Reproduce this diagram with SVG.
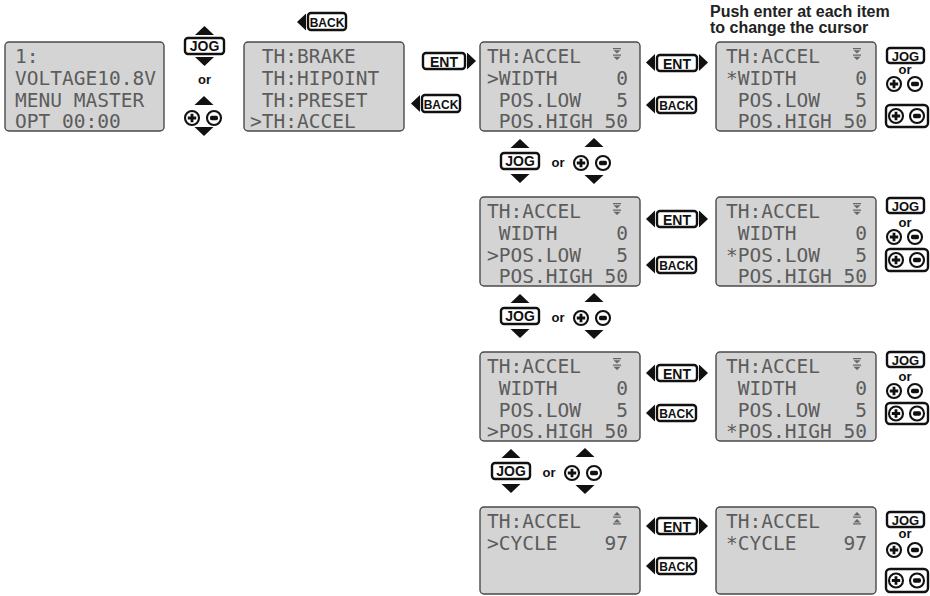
<svg xmlns="http://www.w3.org/2000/svg" width="930" height="596" viewBox="0 0 930 596">
<style>
.lcd{fill:#d4d4d4;stroke:#4a4a4a;stroke-width:1.4}
.lt{font-family:"DejaVu Sans Mono","Liberation Mono",monospace;font-size:19.5px;fill:#5c5c5c;white-space:pre}
.btn{fill:#fff;stroke:#111;stroke-width:2.4}
.bt{font-family:"Liberation Sans",Arial,sans-serif;font-weight:bold;fill:#111;text-anchor:middle}
.or{font-family:"Liberation Sans",Arial,sans-serif;font-weight:bold;font-size:13px;fill:#111;text-anchor:middle}
.note{font-family:"Liberation Sans",Arial,sans-serif;font-weight:bold;font-size:16px;fill:#222}
</style>
<defs>
<g id="plus"><circle r="7" fill="#fff" stroke="#111" stroke-width="2.1"/><path d="M-4.2 0H4.2M0-4.2V4.2" stroke="#111" stroke-width="2.8" fill="none"/></g>
<g id="minus"><circle r="7" fill="#fff" stroke="#111" stroke-width="2.1"/><rect x="-4" y="-2.2" width="8" height="4.4" rx="1.6" fill="#111"/></g>
<path id="tu" fill="#111" d="M-9.5 0H9.5L0-9Z"/>
<path id="td" fill="#111" d="M-9.5 0H9.5L0 9Z"/>
<path id="tl" fill="#111" d="M0-8.5V8.5L-9 0Z"/>
<path id="tr" fill="#111" d="M0-8.5V8.5L9 0Z"/>
<path id="sd" fill="#666" d="M-4 0H4V1.3H-4Z M-3.5 2.2H3.5L0 5.5Z M-4 6.5H4V7.8H-4Z M-3.5 8.7H3.5L0 12Z"/>
<path id="su" fill="#666" d="M-3.5 3.5H3.5L0 0Z M-4 4.5H4V5.8H-4Z M-3.5 10.5H3.5L0 7Z M-4 11.2H4V12.5H-4Z"/>
</defs>

<g id="note">
<text class="note" x="710" y="17">Push enter at each item</text>
<text class="note" x="710" y="33">to change the cursor</text>
</g>

<!-- Screens -->
<g id="screen-home">
<rect class="lcd" x="5" y="42" width="159" height="89" rx="4"/>
<text class="lt" xml:space="preserve" x="15" y="63">1:</text>
<text class="lt" xml:space="preserve" x="15" y="85">VOLTAGE10.8V</text>
<text class="lt" xml:space="preserve" x="15" y="107">MENU MASTER</text>
<text class="lt" xml:space="preserve" x="15" y="128">OPT 00:00</text>
</g>
<g id="screen-menu">
<rect class="lcd" x="244" y="42" width="160" height="89" rx="4"/>
<text class="lt" xml:space="preserve" x="250" y="63"> TH:BRAKE</text>
<text class="lt" xml:space="preserve" x="250" y="85"> TH:HIPOINT</text>
<text class="lt" xml:space="preserve" x="250" y="107"> TH:PRESET</text>
<text class="lt" xml:space="preserve" x="250" y="128">&gt;TH:ACCEL</text>
</g>

<g id="screen-width">
<rect class="lcd" x="480" y="42" width="160" height="89" rx="4"/>
<text class="lt" xml:space="preserve" x="487" y="63">TH:ACCEL</text>
<text class="lt" xml:space="preserve" x="487" y="85">&gt;WIDTH     0</text>
<text class="lt" xml:space="preserve" x="487" y="107"> POS.LOW   5</text>
<text class="lt" xml:space="preserve" x="487" y="128"> POS.HIGH 50</text>
<use href="#sd" x="617" y="48"/>
</g>
<g id="screen-width-edit">
<rect class="lcd" x="716" y="42" width="160" height="89" rx="4"/>
<text class="lt" xml:space="preserve" x="726" y="63">TH:ACCEL</text>
<text class="lt" xml:space="preserve" x="726" y="85">*WIDTH     0</text>
<text class="lt" xml:space="preserve" x="726" y="107"> POS.LOW   5</text>
<text class="lt" xml:space="preserve" x="726" y="128"> POS.HIGH 50</text>
<use href="#sd" x="857" y="48"/>
</g>

<g id="screen-poslow">
<rect class="lcd" x="480" y="197" width="160" height="89" rx="4"/>
<text class="lt" xml:space="preserve" x="487" y="218">TH:ACCEL</text>
<text class="lt" xml:space="preserve" x="487" y="240"> WIDTH     0</text>
<text class="lt" xml:space="preserve" x="487" y="262">&gt;POS.LOW   5</text>
<text class="lt" xml:space="preserve" x="487" y="283"> POS.HIGH 50</text>
<use href="#sd" x="617" y="203"/>
</g>
<g id="screen-poslow-edit">
<rect class="lcd" x="716" y="197" width="160" height="89" rx="4"/>
<text class="lt" xml:space="preserve" x="726" y="218">TH:ACCEL</text>
<text class="lt" xml:space="preserve" x="726" y="240"> WIDTH     0</text>
<text class="lt" xml:space="preserve" x="726" y="262">*POS.LOW   5</text>
<text class="lt" xml:space="preserve" x="726" y="283"> POS.HIGH 50</text>
<use href="#sd" x="857" y="203"/>
</g>

<g id="screen-poshigh">
<rect class="lcd" x="480" y="352" width="160" height="89" rx="4"/>
<text class="lt" xml:space="preserve" x="487" y="373">TH:ACCEL</text>
<text class="lt" xml:space="preserve" x="487" y="395"> WIDTH     0</text>
<text class="lt" xml:space="preserve" x="487" y="417"> POS.LOW   5</text>
<text class="lt" xml:space="preserve" x="487" y="438">&gt;POS.HIGH 50</text>
<use href="#sd" x="617" y="358"/>
</g>
<g id="screen-poshigh-edit">
<rect class="lcd" x="716" y="352" width="160" height="89" rx="4"/>
<text class="lt" xml:space="preserve" x="726" y="373">TH:ACCEL</text>
<text class="lt" xml:space="preserve" x="726" y="395"> WIDTH     0</text>
<text class="lt" xml:space="preserve" x="726" y="417"> POS.LOW   5</text>
<text class="lt" xml:space="preserve" x="726" y="438">*POS.HIGH 50</text>
<use href="#sd" x="857" y="358"/>
</g>

<g id="screen-cycle">
<rect class="lcd" x="480" y="507" width="160" height="87" rx="4"/>
<text class="lt" xml:space="preserve" x="487" y="528">TH:ACCEL</text>
<text class="lt" xml:space="preserve" x="487" y="550">&gt;CYCLE    97</text>
<use href="#su" x="617" y="512"/>
</g>
<g id="screen-cycle-edit">
<rect class="lcd" x="716" y="507" width="160" height="87" rx="4"/>
<text class="lt" xml:space="preserve" x="726" y="528">TH:ACCEL</text>
<text class="lt" xml:space="preserve" x="726" y="550">*CYCLE    97</text>
<use href="#su" x="857" y="512"/>
</g>

<!-- Connectors / key icons -->
<g id="connectors">
<g id="k-home">
<use href="#tu" x="204.5" y="35"/>
<rect class="btn" x="185" y="38" width="39" height="16" rx="3"/>
<text class="bt" x="204.5" y="51" font-size="14">JOG</text>
<use href="#td" x="204.5" y="57"/>
<text class="or" x="204.5" y="84">or</text>
<use href="#tu" x="204" y="105"/>
<use href="#plus" x="192" y="118"/>
<use href="#minus" x="214" y="118"/>
<use href="#td" x="204" y="127"/>
</g>
<g id="k-back-top">
<use href="#tl" x="306" y="22"/>
<rect class="btn" x="308" y="13" width="38" height="17" rx="3"/>
<text class="bt" x="327" y="26.5" font-size="12">BACK</text>
</g>
<g id="k-menu">
<rect class="btn" x="423" y="53" width="42" height="16" rx="3"/>
<text class="bt" x="444" y="66.5" font-size="14">ENT</text>
<use href="#tr" x="467" y="61"/>
<use href="#tl" x="420" y="103.5"/>
<rect class="btn" x="422" y="95" width="38" height="17" rx="3"/>
<text class="bt" x="441" y="108.5" font-size="12">BACK</text>
</g>

<g id="k-row1">
<use href="#tl" x="655" y="62.5"/>
<rect class="btn" x="657" y="55" width="40" height="16" rx="3"/>
<text class="bt" x="677" y="68.5" font-size="14">ENT</text>
<use href="#tr" x="699" y="62.5"/>
<use href="#tl" x="655" y="105"/>
<rect class="btn" x="657" y="97" width="39" height="16" rx="3"/>
<text class="bt" x="676.5" y="110" font-size="12">BACK</text>
</g>
<g id="k-row2">
<use href="#tl" x="655" y="219"/>
<rect class="btn" x="657" y="211" width="40" height="16" rx="3"/>
<text class="bt" x="677" y="224.5" font-size="14">ENT</text>
<use href="#tr" x="699" y="219"/>
<use href="#tl" x="655" y="265"/>
<rect class="btn" x="657" y="257" width="39" height="16" rx="3"/>
<text class="bt" x="676.5" y="270" font-size="12">BACK</text>
</g>
<g id="k-row3">
<use href="#tl" x="655" y="373"/>
<rect class="btn" x="657" y="365" width="40" height="16" rx="3"/>
<text class="bt" x="677" y="378.5" font-size="14">ENT</text>
<use href="#tr" x="699" y="373"/>
<use href="#tl" x="655" y="413"/>
<rect class="btn" x="657" y="405" width="39" height="16" rx="3"/>
<text class="bt" x="676.5" y="418" font-size="12">BACK</text>
</g>
<g id="k-row4">
<use href="#tl" x="655" y="526"/>
<rect class="btn" x="657" y="518" width="40" height="16" rx="3"/>
<text class="bt" x="677" y="531.5" font-size="14">ENT</text>
<use href="#tr" x="699" y="526"/>
<use href="#tl" x="655" y="566"/>
<rect class="btn" x="657" y="558" width="39" height="16" rx="3"/>
<text class="bt" x="676.5" y="571" font-size="12">BACK</text>
</g>

<g id="k-down1">
<use href="#tu" x="520" y="148"/>
<rect class="btn" x="501" y="153" width="38" height="16" rx="3"/>
<text class="bt" x="520" y="166" font-size="14">JOG</text>
<use href="#td" x="520" y="174"/>
<text class="or" x="558" y="167">or</text>
<use href="#tu" x="594" y="147"/>
<use href="#plus" x="581" y="163"/>
<use href="#minus" x="603" y="163"/>
<use href="#td" x="594" y="175"/>
</g>
<g id="k-down2">
<use href="#tu" x="520" y="303"/>
<rect class="btn" x="501" y="308" width="38" height="16" rx="3"/>
<text class="bt" x="520" y="321" font-size="14">JOG</text>
<use href="#td" x="520" y="329"/>
<text class="or" x="558" y="322">or</text>
<use href="#tu" x="594" y="302"/>
<use href="#plus" x="581" y="318"/>
<use href="#minus" x="603" y="318"/>
<use href="#td" x="594" y="330"/>
</g>
<g id="k-down3">
<use href="#tu" x="511" y="458"/>
<rect class="btn" x="492" y="463" width="38" height="16" rx="3"/>
<text class="bt" x="511" y="476" font-size="14">JOG</text>
<use href="#td" x="511" y="484"/>
<text class="or" x="549" y="477">or</text>
<use href="#tu" x="585" y="457"/>
<use href="#plus" x="572" y="473"/>
<use href="#minus" x="594" y="473"/>
<use href="#td" x="585" y="485"/>
</g>

<g id="k-adj1">
<rect class="btn" x="887" y="48" width="37" height="15" rx="3"/>
<text class="bt" x="905.5" y="60.5" font-size="13">JOG</text>
<text class="or" x="905" y="74">or</text>
<use href="#plus" x="894" y="84"/>
<use href="#minus" x="915" y="84"/>
<rect class="btn" x="886" y="105" width="42" height="22" rx="4"/>
<use href="#plus" x="896" y="116"/>
<use href="#minus" x="917" y="116"/>
</g>
<g id="k-adj2">
<rect class="btn" x="887" y="198" width="37" height="15" rx="3"/>
<text class="bt" x="905.5" y="210.5" font-size="13">JOG</text>
<text class="or" x="905" y="227">or</text>
<use href="#plus" x="894" y="237"/>
<use href="#minus" x="915" y="237"/>
<rect class="btn" x="886" y="249" width="42" height="22" rx="4"/>
<use href="#plus" x="896" y="260"/>
<use href="#minus" x="917" y="260"/>
</g>
<g id="k-adj3">
<rect class="btn" x="887" y="352" width="37" height="15" rx="3"/>
<text class="bt" x="905.5" y="364.5" font-size="13">JOG</text>
<text class="or" x="905" y="381">or</text>
<use href="#plus" x="894" y="391"/>
<use href="#minus" x="915" y="391"/>
<rect class="btn" x="886" y="403" width="42" height="21" rx="4"/>
<use href="#plus" x="896" y="413.5"/>
<use href="#minus" x="917" y="413.5"/>
</g>
<g id="k-adj4">
<rect class="btn" x="887" y="512" width="37" height="15" rx="3"/>
<text class="bt" x="905.5" y="524.5" font-size="13">JOG</text>
<text class="or" x="905" y="538">or</text>
<use href="#plus" x="894" y="550"/>
<use href="#minus" x="915" y="550"/>
<rect class="btn" x="886" y="569" width="42" height="23" rx="4"/>
<use href="#plus" x="896" y="580.5"/>
<use href="#minus" x="917" y="580.5"/>
</g>
</g>
</svg>
